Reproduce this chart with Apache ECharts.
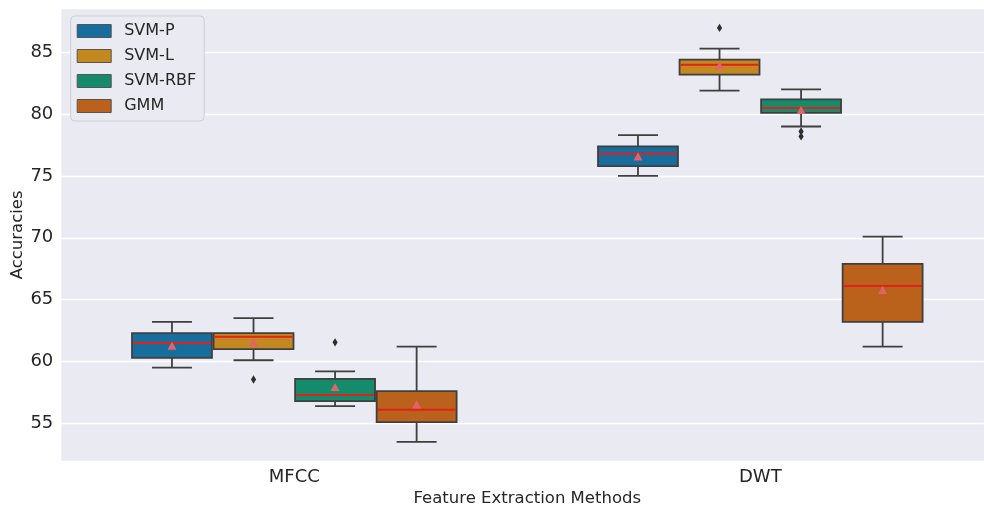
<!DOCTYPE html>
<html>
<head>
<meta charset="utf-8">
<script src="https://cdn.jsdelivr.net/npm/echarts@6/dist/echarts.min.js"></script>
<style>
html,body{margin:0;padding:0;background:#fff;}
#chart{width:984px;height:505px;}
</style>
</head>
<body>
<div id="chart"></div>
<script>
// ---- data ----
const categories = ['MFCC', 'DWT'];
const methods = ['SVM-P', 'SVM-L', 'SVM-RBF', 'GMM'];
// [low whisker, q1, median, q3, high whisker] per category (MFCC, DWT)
const svmP   = [[59.5, 60.3, 61.5, 62.3, 63.2], [75.0, 75.8, 76.8, 77.4, 78.3]];
const svmL   = [[60.1, 61.0, 62.0, 62.3, 63.5], [81.9, 83.2, 84.0, 84.4, 85.3]];
const svmRBF = [[56.4, 56.8, 57.3, 58.6, 59.2], [79.0, 80.1, 80.5, 81.2, 82.0]];
const gmm    = [[53.5, 55.1, 56.1, 57.6, 61.2], [61.2, 63.2, 66.1, 67.9, 70.1]];
const boxData = [svmP, svmL, svmRBF, gmm];
// means per method [MFCC, DWT]
const meanP   = [61.25, 76.55];
const meanL   = [61.5, 83.9];
const meanRBF = [57.9, 80.3];
const meanGMM = [56.5, 65.75];
const means = [meanP, meanL, meanRBF, meanGMM];
// outliers: [categoryIndex, methodIndex, value]
const outliers = [[0, 1, 58.55], [0, 2, 61.55], [1, 1, 86.97], [1, 2, 78.6], [1, 2, 78.2]];
const fills = ['#176d9c', '#c38820', '#158b6b', '#ba611b'];

const LINE = '#3f3f3f';
const MEDIAN = '#e3201c';
const MEANC = '#e0646a';
const GROUP = 0.7;

function xPos(api, cat, hue) {
  const bw = api.size([1, 0])[0];
  const slot = bw * GROUP / 4;
  return { x: api.coord([cat, 0])[0] + (hue - 1.5) * slot, slot: slot };
}

function boxRender(hue) {
  return function (params, api) {
    const cat = api.value(0);
    const p = xPos(api, cat, hue);
    const w = p.slot - 1.6;
    const cw = w / 2;
    const y = i => api.coord([cat, api.value(i)])[1];
    const lo = y(1), q1 = y(2), med = y(3), q3 = y(4), hi = y(5);
    const x = p.x;
    const ls = { stroke: LINE, lineWidth: 1.8 };
    return {
      type: 'group',
      children: [
        { type: 'line', shape: { x1: x, y1: q3, x2: x, y2: hi }, style: ls },
        { type: 'line', shape: { x1: x, y1: q1, x2: x, y2: lo }, style: ls },
        { type: 'line', shape: { x1: x - cw / 2, y1: hi, x2: x + cw / 2, y2: hi }, style: ls },
        { type: 'line', shape: { x1: x - cw / 2, y1: lo, x2: x + cw / 2, y2: lo }, style: ls },
        { type: 'rect', shape: { x: x - w / 2, y: q3, width: w, height: q1 - q3 },
          style: { fill: fills[hue], stroke: LINE, lineWidth: 1.8 } },
        { type: 'line', shape: { x1: x - w / 2 + 1, y1: med, x2: x + w / 2 - 1, y2: med },
          style: { stroke: MEDIAN, lineWidth: 2 } }
      ]
    };
  };
}

function meanRender(params, api) {
  const cat = api.value(0), hue = api.value(1);
  const p = xPos(api, cat, hue);
  const yv = api.coord([cat, api.value(2)])[1];
  const s = 4.5;
  return {
    type: 'polygon',
    shape: { points: [[p.x, yv - s], [p.x - s, yv + s * 0.8], [p.x + s, yv + s * 0.8]] },
    style: { fill: MEANC }
  };
}

function outlierRender(params, api) {
  const cat = api.value(0), hue = api.value(1);
  const p = xPos(api, cat, hue);
  const yv = api.coord([cat, api.value(2)])[1];
  return {
    type: 'polygon',
    shape: { points: [[p.x, yv - 4.2], [p.x + 2.6, yv], [p.x, yv + 4.2], [p.x - 2.6, yv]] },
    style: { fill: '#2e2e2e' }
  };
}

const series = methods.map((name, h) => ({
  name: name,
  type: 'custom',
  renderItem: boxRender(h),
  itemStyle: { color: fills[h] },
  encode: { x: 0, y: [1, 2, 3, 4, 5] },
  data: boxData[h].map((b, c) => [c].concat(b)),
  z: 2
}));

const meanData = [];
means.forEach((m, h) => m.forEach((v, c) => meanData.push([c, h, v])));
series.push({
  name: 'mean', type: 'custom', renderItem: meanRender,
  encode: { x: 0, y: 2 }, data: meanData, z: 5, silent: true
});
series.push({
  name: 'outliers', type: 'custom', renderItem: outlierRender,
  encode: { x: 0, y: 2 }, data: outliers, z: 5, silent: true
});

const chart = echarts.init(document.getElementById('chart'), null, { renderer: 'canvas' });
chart.setOption({
  animation: false,
  backgroundColor: '#ffffff',
  textStyle: { fontFamily: 'DejaVu Sans' },
  grid: {
    left: 61.3, right: -9.3, top: 8, bottom: 43.3,
    containLabel: false,
    outerBoundsMode: 'none',
    show: true, backgroundColor: '#eaeaf2', borderWidth: 0
  },
  legend: {
    orient: 'vertical',
    left: 70.7, top: 16,
    padding: [7, 8, 7, 6],
    itemWidth: 34, itemHeight: 13, itemGap: 9,
    backgroundColor: '#eaeaf2',
    borderColor: '#cfcfd6', borderWidth: 1, borderRadius: 4,
    icon: 'rect',
    textStyle: { color: '#262626', fontSize: 16, lineHeight: 16, fontFamily: 'DejaVu Sans', padding: [0, 0, 0, 8] },
    data: methods.map(n => ({ name: n, itemStyle: { borderColor: '#555555', borderWidth: 1 } }))
  },
  xAxis: {
    type: 'category',
    data: categories,
    boundaryGap: true,
    name: 'Feature Extraction Methods',
    nameLocation: 'middle',
    nameGap: 29,
    nameMoveOverlap: false,
    nameTextStyle: { color: '#262626', fontSize: 16.5, fontFamily: 'DejaVu Sans' },
    axisLine: { show: false },
    axisTick: { show: false },
    splitLine: { show: false },
    axisLabel: { color: '#262626', fontSize: 18, margin: 7, fontFamily: 'DejaVu Sans' }
  },
  yAxis: {
    type: 'value',
    min: 51.9, max: 88.58,
    splitNumber: 7,
    name: 'Accuracies',
    nameLocation: 'middle',
    nameGap: 35,
    nameMoveOverlap: false,
    nameTextStyle: { color: '#262626', fontSize: 16.5, fontFamily: 'DejaVu Sans' },
    axisLine: { show: false },
    axisTick: { show: false },
    splitLine: { show: true, lineStyle: { color: '#ffffff', width: 1.3 } },
    axisLabel: { color: '#262626', fontSize: 18, margin: 8, showMinLabel: false, showMaxLabel: false, fontFamily: 'DejaVu Sans' }
  },
  series: series
});
</script>
</body>
</html>
